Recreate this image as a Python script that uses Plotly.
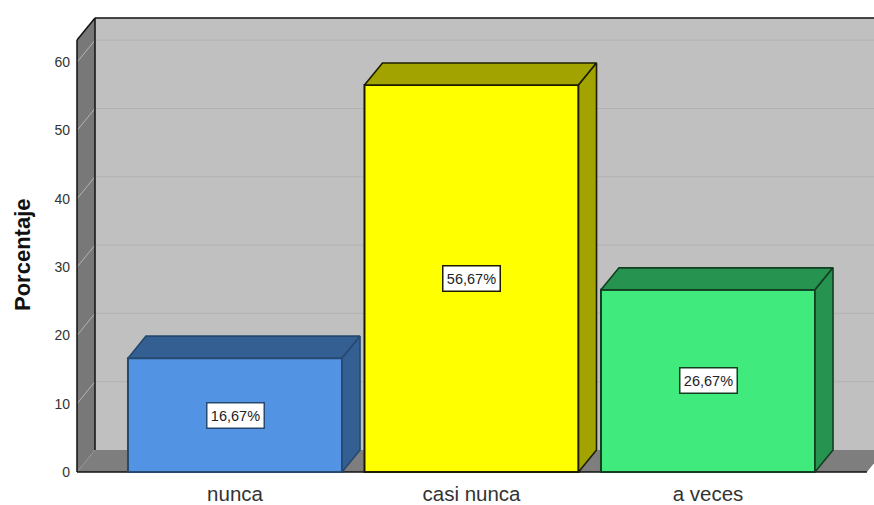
import plotly.graph_objects as go

categories = ["nunca", "casi nunca", "a veces"]
values = [16.67, 56.67, 26.67]
labels = ["16,67%", "56,67%", "26,67%"]
y_ticks = [0, 10, 20, 30, 40, 50, 60]
front_colors = ["#5294e3", "#ffff00", "#40ea7c"]
depth_colors = ["#345f93", "#a3a300", "#279350"]
edge_colors = ["#27496f", "#1c1c00", "#123f22"]

W, H = 874, 505
L, T, B = 73, 15, 29
WALL_L, WALL_T, BASE = 77, 18, 472
BAR_W = 0.905
UNIT_X = 236.5
UNIT_Y = 6.83
DX = 18 / UNIT_X
DY = 22 / UNIT_Y
pos = [1, 2, 3]
x0 = 1 - (235 - WALL_L) / UNIT_X
x_axis0 = 1 - (235 - L) / UNIT_X
x1 = 3 + (W - 708) / UNIT_X
x_floor = 3.672
y_top = (BASE - WALL_T) / UNIT_Y
y_wall = y_top - DY
y_axis0 = -(H - B - BASE) / UNIT_Y
y_axis1 = (BASE - T) / UNIT_Y


def poly(pts):
    return "M " + " L ".join(f"{a},{b}" for a, b in pts) + " Z"


shapes = [
    dict(type="path", path=poly([(x0 + DX, DY), (x1 + DX, DY), (x1 + DX, y_top), (x0 + DX, y_top)]),
         fillcolor="#c0c0c0", line_width=0, layer="below"),
    dict(type="path", path=poly([(x0, 0), (x0 + DX, DY), (x0 + DX, y_top), (x0, y_wall)]),
         fillcolor="#787878", line_width=0, layer="below"),
    dict(type="path", path=poly([(x0, 0), (x_floor, 0), (x_floor + DX, DY), (x0 + DX, DY)]),
         fillcolor="#7e7e7e", line_width=0, layer="below"),
]
for v in y_ticks[1:]:
    shapes.append(dict(type="line", x0=x0, y0=v, x1=x0 + DX, y1=v + DY,
                       line=dict(color="#b4b4b4", width=1), layer="below"))
    shapes.append(dict(type="line", x0=x0 + DX, y0=v + DY, x1=x1, y1=v + DY,
                       line=dict(color="#b2b2b2", width=1), layer="below"))
for a, b, c, d in [
    (x0, 0, x0, y_wall),
    (x0, y_wall, x0 + DX, y_top),
    (x0 + DX, DY, x0 + DX, y_top),
    (x0 + DX, y_top, x1, y_top),
    (x0, 0, x_floor, 0),
]:
    shapes.append(dict(type="line", x0=a, y0=b, x1=c, y1=d,
                       line=dict(color="#111111", width=1.5), layer="below"))

fig = go.Figure()
fig.add_trace(go.Bar(
    x=pos, y=values, width=BAR_W, cliponaxis=False,
    marker=dict(color=front_colors, line=dict(color=edge_colors, width=2)),
    hoverinfo="skip", showlegend=False,
))

for p, v, dc, ec in zip(pos, values, depth_colors, edge_colors):
    xl, xr = p - BAR_W / 2, p + BAR_W / 2
    top_x = [xl, xr, xr + DX, xl + DX, xl]
    top_y = [v, v, v + DY, v + DY, v]
    side_x = [xr, xr + DX, xr + DX, xr, xr]
    side_y = [0, DY, v + DY, v, 0]
    for xs, ys in [(top_x, top_y), (side_x, side_y)]:
        fig.add_trace(go.Scatter(
            x=xs, y=ys, mode="lines", fill="toself", fillcolor=dc,
            line=dict(color=ec, width=1.6), hoverinfo="skip", showlegend=False,
        ))

annotations = [
    dict(x=p, y=v / 2, text=t, showarrow=False, bgcolor="white", bordercolor=ec, borderwidth=1.5,
         borderpad=1, width=54, height=22, font=dict(family="Liberation Sans", size=14.5, color="#222"))
    for p, v, t, ec in zip(pos, values, labels, edge_colors)
]
annotations.append(dict(
    xref="paper", yref="paper", x=0, y=(H - B - 255) / (H - B - T), xshift=22 - L,
    xanchor="center", yanchor="middle",
    text="<b>Porcentaje</b>", textangle=-90, showarrow=False,
    font=dict(family="Liberation Sans", size=22, color="#111"),
))

fig.update_layout(
    width=W, height=H, autosize=False,
    margin=dict(l=L, r=0, t=T, b=B),
    paper_bgcolor="white", plot_bgcolor="white",
    shapes=shapes, annotations=annotations, showlegend=False,
    font=dict(family="Liberation Sans", color="#333"),
    xaxis=dict(range=[x_axis0, x1], tickmode="array", tickvals=pos, ticktext=categories,
               showgrid=False, zeroline=False, ticks="", showline=False,
               ticklabelstandoff=3, tickfont=dict(size=20.5, color="#333")),
    yaxis=dict(range=[y_axis0, y_axis1], tickmode="array", tickvals=y_ticks,
               showgrid=False, zeroline=False, ticks="", showline=False,
               ticklabelstandoff=2, tickfont=dict(size=14, color="#333")),
)
fig.write_html("out.html", config=dict(displayModeBar=False),
               post_script="document.body.style.margin='0';document.body.style.overflow='hidden';")
